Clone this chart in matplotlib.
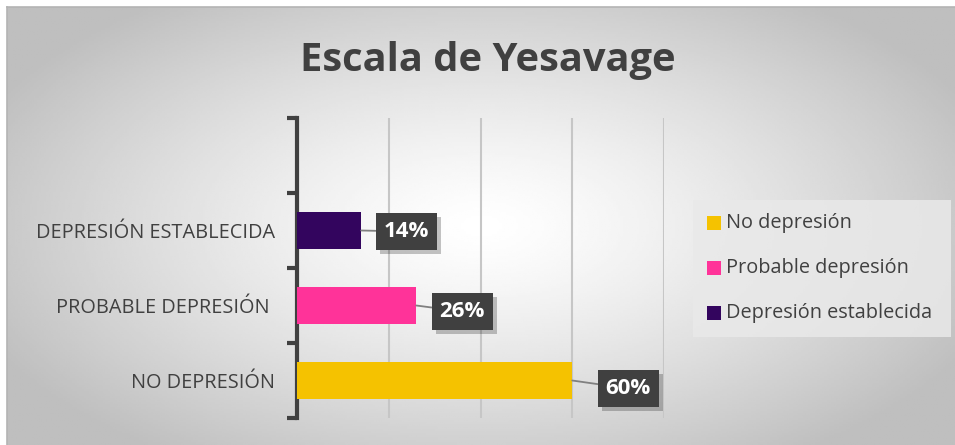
import numpy as np
import matplotlib
matplotlib.use('Agg')
import matplotlib.pyplot as plt
from matplotlib.patches import Rectangle
import matplotlib.patheffects as pe

# data
categories = ["NO DEPRESIÓN", "PROBABLE DEPRESIÓN ", "DEPRESIÓN ESTABLECIDA", ""]
values = [0.60, 0.26, 0.14]
colors = ["#f5c200", "#ff3399", "#33055e"]
legend_labels = ["No depresión", "Probable depresión", "Depresión establecida"]
label_offsets = [(56, -8), (46, -6), (45, -1)]  # pixels, label box from bar end

W, H = 955, 445
plt.rcParams['font.family'] = ['Open Sans', 'DejaVu Sans']
fig = plt.figure(figsize=(W / 100, H / 100), dpi=100)
fig.patch.set_facecolor('white')

def fx(px):
    return px / W

def fy(py):
    return 1 - py / H

# background radial gradient
bg = fig.add_axes([7 / W, 0, 948 / W, 438 / H])
xx, yy = np.meshgrid(np.linspace(-1, 1, 400), np.linspace(-1, 1, 200))
r = np.clip(np.sqrt(xx ** 2 + (yy * 0.9) ** 2), 0, 1.15)
shade = 1 - 0.21 * r ** 1.3
bg.imshow(shade, cmap='gray', vmin=0, vmax=1, aspect='auto', extent=[0, 1, 0, 1])
bg.set_xticks([])
bg.set_yticks([])
for s in ['right', 'bottom']:
    bg.spines[s].set_visible(False)
for s in ['top', 'left']:
    bg.spines[s].set_color('#b4b4b4')
    bg.spines[s].set_linewidth(1.2)

ax = fig.add_axes([297 / W, 27 / H, 367 / W, 300 / H])
ax.patch.set_alpha(0)
ypos = np.arange(len(values))
ax.barh(ypos, values, height=0.5, color=colors, zorder=3)

ax.set_xlim(0, 0.8)
ax.set_ylim(-0.5, len(categories) - 0.5)
ax.set_xticks([0.2, 0.4, 0.6, 0.8])
ax.xaxis.grid(True, color='#c6c6c6', linewidth=1.5, zorder=0)
ax.tick_params(axis='x', length=0, labelbottom=False)
ax.set_yticks(np.arange(len(categories)))
ax.set_yticklabels(categories, fontsize=14.3, color='#404040')
ax.tick_params(axis='y', which='major', length=0, pad=16)
ax.set_yticks(np.arange(-0.5, len(categories)), minor=True)
ax.tick_params(axis='y', which='minor', length=7, width=3, color='#404040')
for s in ['top', 'right', 'bottom']:
    ax.spines[s].set_visible(False)
ax.spines['left'].set_color('#404040')
ax.spines['left'].set_linewidth(3)

# data labels
for y, v, off in zip(ypos, values, label_offsets):
    a = ax.annotate("%d%%" % round(v * 100), xy=(v, y), xytext=off,
                    textcoords='offset pixels', ha='center', va='center',
                    fontsize=16, fontweight='bold', color='white', zorder=5,
                    bbox=dict(boxstyle='square,pad=0.36', fc='#404040', ec='none'),
                    arrowprops=dict(arrowstyle='-', color='#808080', lw=1.3,
                                    shrinkA=0, shrinkB=0,
                                    connectionstyle='arc3,rad=0'))
    a.get_bbox_patch().set_path_effects([pe.SimplePatchShadow(offset=(3, -3), alpha=0.25), pe.Normal()])

# title
fig.text(fx(488), fy(60), "Escala de Yesavage", ha='center', va='center',
         fontsize=28.7, fontweight='bold', color='#404040')

# legend
fig.patches.append(Rectangle((fx(693), fy(337)), fx(258), 137 / H, transform=fig.transFigure,
                             facecolor='#e9e9e9', edgecolor='none', alpha=0.85, zorder=2))
for i, (c, lab) in enumerate(zip(colors, legend_labels)):
    yc = 223 + 45 * i
    fig.patches.append(Rectangle((fx(707), fy(yc + 7)), 14 / W, 14 / H, transform=fig.transFigure,
                                 facecolor=c, edgecolor='none', zorder=3))
    fig.text(fx(726), fy(yc), lab, ha='left', va='center', fontsize=14.3,
             color='#404040', zorder=3)

fig.savefig('out.png', dpi=100)
